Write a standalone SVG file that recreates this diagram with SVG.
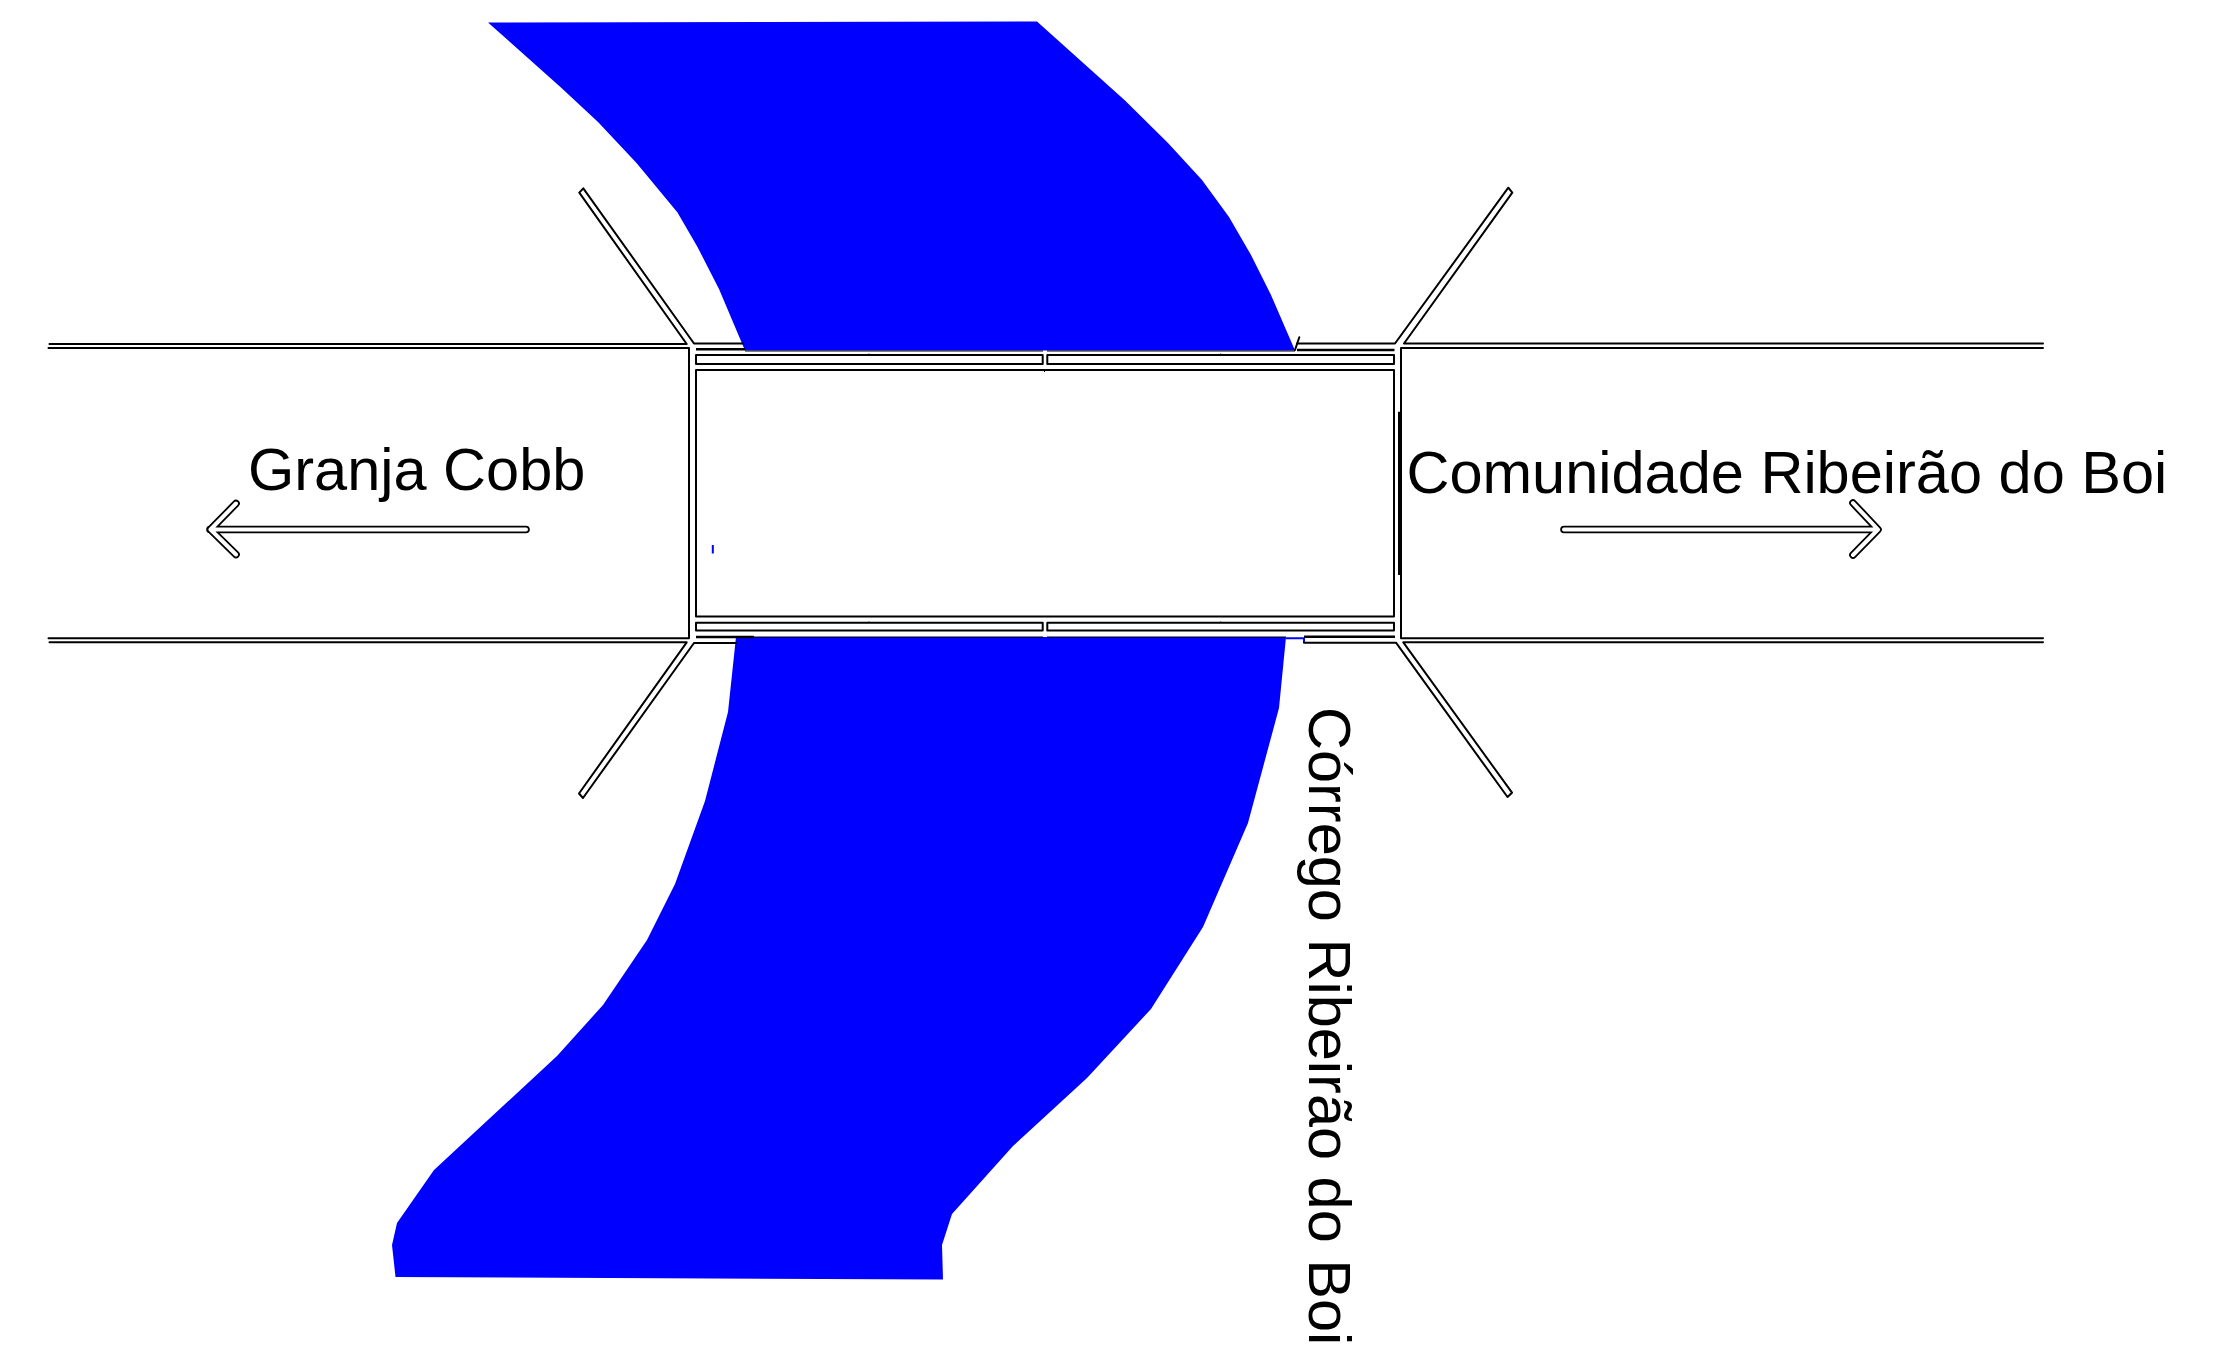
<svg xmlns="http://www.w3.org/2000/svg" width="2227" height="1355" viewBox="0 0 2227 1355">
<style>
.river{fill:#0000ff;stroke:none}
.l{fill:none;stroke:#000;stroke-width:2;stroke-linejoin:round;stroke-linecap:round}
.h{fill:none;stroke:#000;stroke-width:2.6}
.t{fill:none;stroke:#000;stroke-width:1}
.a{fill:none;stroke-linejoin:round;stroke-linecap:round}
text{font-family:"Liberation Sans",Arial,sans-serif;font-size:59.5px;fill:#000}
</style>
<rect width="2227" height="1355" fill="#fff"/>
<g id="river">
<polygon class="river" points="488,22.5 1037,21.5 1125,100.5 1168,143 1202,180 1229,217 1251,255 1271,295 1295,350.5 745,350.5 719,289 697.5,247 677.5,212.5 636.5,163 598,122 561.5,88"/>
<polygon class="river" points="736,637 1286,637 1279,708 1248,823 1203,927 1151,1009 1087,1078 1013,1146 952,1214 942,1245 943,1279.5 395.5,1277 392,1245 397,1223 434,1170 557,1056 603,1005 647,940 675,884 705,801 728,712"/>
<rect x="711.8" y="545" width="2" height="8.5" fill="#0000ff"/>
<path d="M1286,638.3H1304V643" fill="none" stroke="#0000ff" stroke-width="2"/>
</g>
<g id="bridge">
<rect class="l" x="696" y="370" width="698" height="246.5"/>
<rect class="l" x="696" y="355" width="346.7" height="9"/>
<rect class="l" x="1047.3" y="355" width="346.7" height="9"/>
<rect class="l" x="696" y="622.7" width="346.7" height="7.8"/>
<rect class="l" x="1047.3" y="622.7" width="346.7" height="7.8"/>
<path class="h" d="M696,349.3H745M1297,350H1394.5M696,637H754M1304,636.8H1395M1399.3,411.7V575"/>
<path class="t" d="M745,351H1043M1047,351H1295M754,637H1043M1047,637H1286"/>
<path class="t" d="M869,353.5V355M1220.7,353.5V355M869,621.5V623M1220.7,621.5V623M1044.5,370V372"/>
</g>
<g id="road-left">
<path class="l" d="M48.5,348H689V638.3H48.5"/>
<path class="l" d="M49.5,344H686.7L579.3,192.7L583.3,188.3L694,343.5H743"/>
<path class="l" d="M49.5,642.3H686.7L579,793.5L583,798L694,643H736"/>
</g>
<g id="road-right">
<path class="l" d="M2043,348H1401V638.3H2043"/>
<path class="l" d="M1297,343.5H1395L1508.3,187.7L1512.3,192.7L1404,343.5H2043"/>
<path class="l" d="M1295,350L1299.3,337.3"/>
<path class="l" d="M1304,642.7H1396L1507.5,797L1512,792.7L1403.3,642.3H2043"/>
</g>
<g id="arrow-left">
<path class="a" stroke="#000" stroke-width="7.6" d="M526,529.5H210M236,503.5L210.5,529.5L236,554.5"/>
<path class="a" stroke="#fff" stroke-width="4" d="M526,529.5H212M236,503.5L210.5,529.5L236,554.5"/>
</g>
<g id="arrow-right">
<path class="a" stroke="#000" stroke-width="7.6" d="M1564,529.5H1877M1853,503L1878,529.5L1853,555"/>
<path class="a" stroke="#fff" stroke-width="4" d="M1564,529.5H1875M1853,503L1878,529.5L1853,555"/>
</g>
<g id="labels">
<text x="248" y="490">Granja Cobb</text>
<text x="1406.5" y="493">Comunidade Ribeirão do Boi</text>
<text transform="translate(1309,707) rotate(90)">Córrego Ribeirão do Boi</text>
</g>
</svg>
